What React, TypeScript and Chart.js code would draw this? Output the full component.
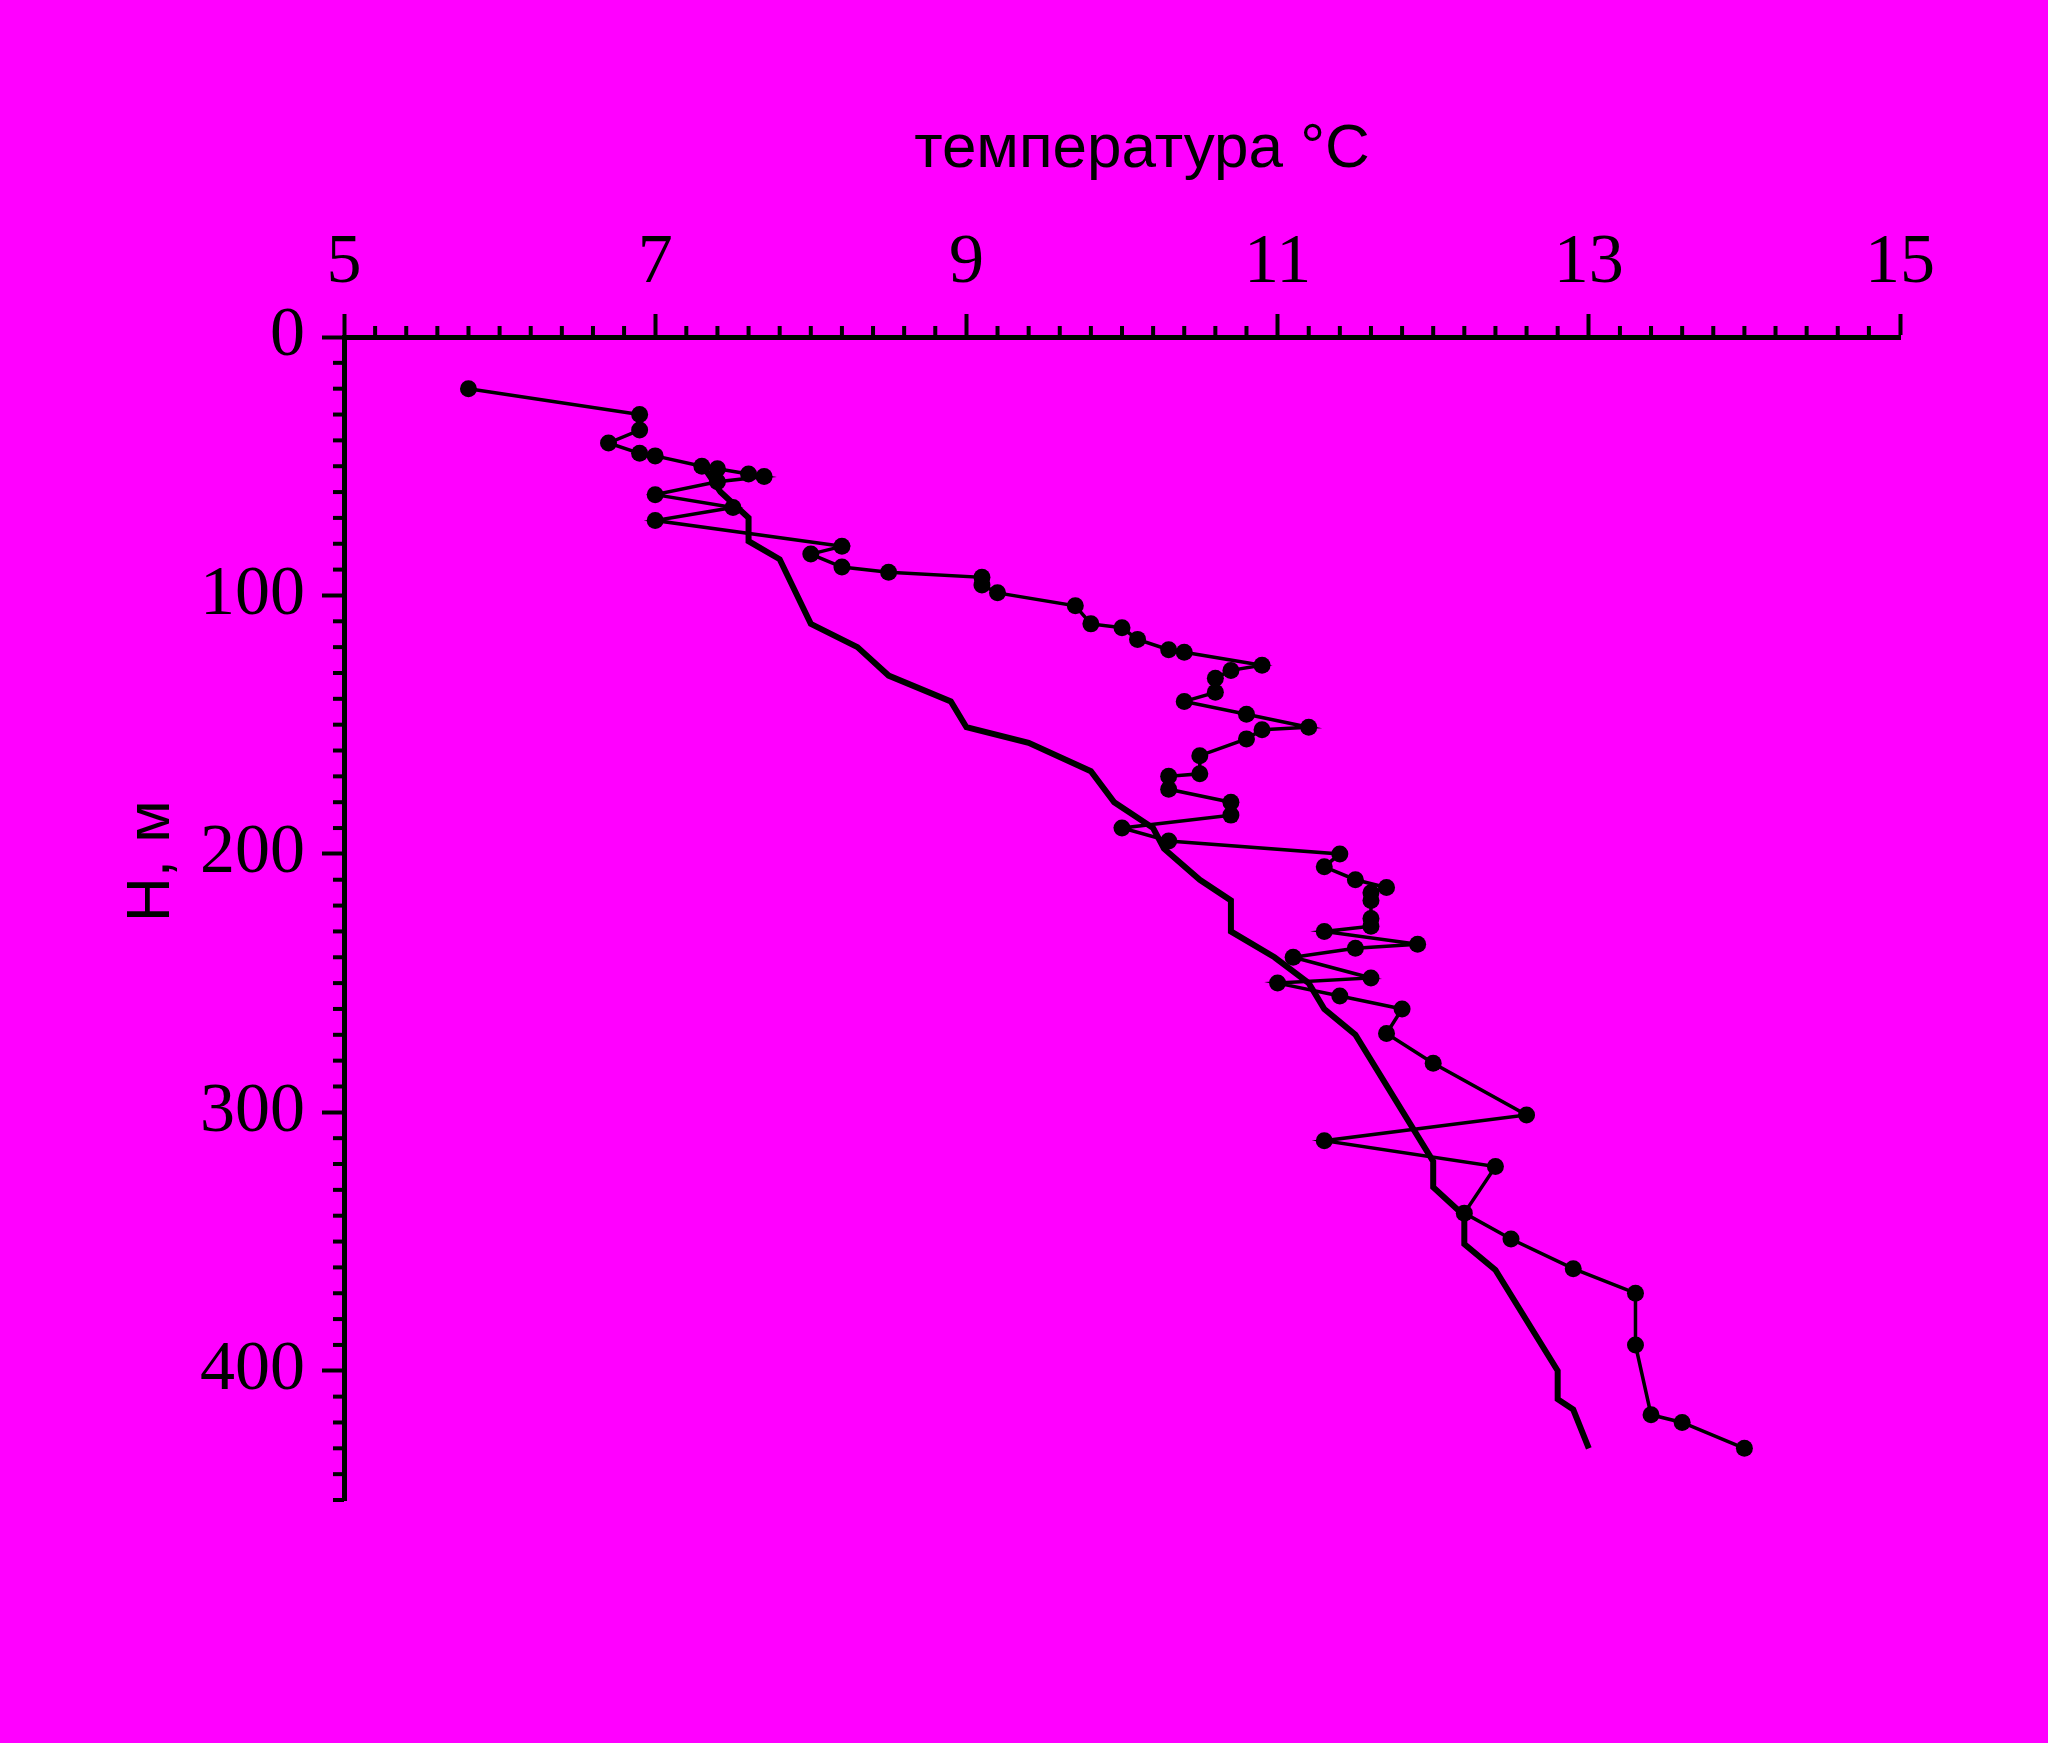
import { useEffect, useRef } from "react";
import { Chart, registerables } from "chart.js";

Chart.register(...registerables);

// Measured profile (dots)
const MEASURED_TEMP = [
  5.8, 6.9, 6.9, 6.7, 6.9, 7.0, 7.3, 7.4, 7.6, 7.7, 7.4, 7.0, 7.5, 7.0, 8.2, 8.0, 8.2, 8.5,
  9.1, 9.1, 9.2, 9.7, 9.8, 10.0, 10.1, 10.3, 10.4, 10.9, 10.7, 10.6, 10.6, 10.4, 10.8, 11.2,
  10.9, 10.8, 10.5, 10.5, 10.3, 10.3, 10.7, 10.7, 10.0, 10.3, 11.4, 11.3, 11.5, 11.7, 11.6,
  11.6, 11.6, 11.6, 11.3, 11.9, 11.5, 11.1, 11.6, 11.0, 11.4, 11.8, 11.7, 12.0, 12.6, 11.3,
  12.4, 12.2, 12.5, 12.9, 13.3, 13.3, 13.4, 13.6, 14.0,
];
const MEASURED_DEPTH = [
  20, 30, 36, 41, 45, 46, 50, 51, 53, 54, 56, 61, 66, 71, 81, 84, 89, 91,
  93, 96, 99, 104, 111, 112.5, 117, 121, 122, 127, 129, 132, 137.5, 141, 146, 151,
  152, 155.5, 162, 169, 170, 175, 180, 185, 190, 195, 200, 205, 210, 213, 215,
  218, 225, 228, 230, 235, 236.5, 240, 248, 250, 255, 260, 269.5, 281, 301, 311,
  321, 339, 349, 360.5, 370, 390, 417, 420, 430,
];

// Smooth profile (thick line)
const MODEL_TEMP = [
  7.33, 7.42, 7.6, 7.6, 7.8, 8.0, 8.3, 8.5, 8.9, 9.0, 9.4, 9.8, 9.95, 10.2, 10.27, 10.5,
  10.7, 10.7, 10.98, 11.2, 11.3, 11.5, 12.0, 12.0, 12.2, 12.2, 12.4, 12.8, 12.8, 12.9, 13.0,
];
const MODEL_DEPTH = [
  52, 60, 70, 79, 86, 111, 120, 131, 141, 151, 157, 168, 180, 190, 198, 210,
  218, 230, 240, 250, 260, 270, 319, 329, 340, 351, 361, 400, 411, 415, 430,
];

const X_TICKS = [5, 7, 9, 11, 13, 15];
const Y_TICKS = [0, 100, 200, 300, 400];
const X_MIN = 5;
const X_MAX = 15;
const Y_MIN = 0;
const Y_MAX = 450;
const X_MINOR_STEP = 0.2;
const Y_MINOR_STEP = 10;

const X_TITLE = "температура °C";
const Y_TITLE = "H, м";

const BG = "#ff00ff";
const INK = "#000000";
const W = 2048;
const H = 1743;

const decorPlugin = {
  id: "decor",
  beforeDraw(chart: any) {
    const ctx = chart.ctx;
    ctx.save();
    ctx.fillStyle = BG;
    ctx.fillRect(0, 0, chart.width, chart.height);
    ctx.restore();
  },
  afterDraw(chart: any) {
    const { ctx, chartArea } = chart;
    const xs = chart.scales.x;
    const ys = chart.scales.y;
    ctx.save();
    ctx.strokeStyle = INK;
    ctx.lineWidth = 4;
    ctx.lineCap = "butt";
    const nx = Math.round((X_MAX - X_MIN) / X_MINOR_STEP);
    for (let i = 0; i <= nx; i++) {
      const v = X_MIN + i * X_MINOR_STEP;
      if (X_TICKS.some((t) => Math.abs(t - v) < 1e-6)) continue;
      const px = xs.getPixelForValue(v);
      ctx.beginPath();
      ctx.moveTo(px, chartArea.top);
      ctx.lineTo(px, chartArea.top - 11);
      ctx.stroke();
    }
    const ny = Math.round((Y_MAX - Y_MIN) / Y_MINOR_STEP);
    for (let i = 0; i <= ny; i++) {
      const v = Y_MIN + i * Y_MINOR_STEP;
      if (Y_TICKS.some((t) => Math.abs(t - v) < 1e-6)) continue;
      const py = ys.getPixelForValue(v);
      ctx.beginPath();
      ctx.moveTo(chartArea.left, py);
      ctx.lineTo(chartArea.left - 11, py);
      ctx.stroke();
    }
    // axis titles
    ctx.fillStyle = INK;
    ctx.font = "62px 'Liberation Sans', Arial, sans-serif";
    ctx.textAlign = "center";
    ctx.textBaseline = "alphabetic";
    ctx.fillText(X_TITLE, (chartArea.left + chartArea.right) / 2 + 20, chartArea.top - 170);
    ctx.translate(chartArea.left - 175, chartArea.top + 524);
    ctx.rotate(-Math.PI / 2);
    ctx.fillText(Y_TITLE, 0, 0);
    ctx.restore();
  },
};

export default function App() {
  const ref = useRef<HTMLCanvasElement | null>(null);

  useEffect(() => {
    if (!ref.current) return;
    const measured = MEASURED_TEMP.map((t, i) => ({ x: t, y: MEASURED_DEPTH[i] }));
    const model = MODEL_TEMP.map((t, i) => ({ x: t, y: MODEL_DEPTH[i] }));
    const tickFont = { family: "'Liberation Serif', 'Times New Roman', serif", size: 70 };
    const chart = new Chart(ref.current, {
      type: "line",
      data: {
        datasets: [
          {
            label: "measured",
            data: measured,
            borderColor: INK,
            backgroundColor: INK,
            borderWidth: 3.5,
            pointRadius: 8.5,
            pointBorderWidth: 0,
            pointBackgroundColor: INK,
            tension: 0,
            fill: false,
          },
          {
            label: "model",
            data: model,
            borderColor: INK,
            backgroundColor: INK,
            borderWidth: 6,
            pointRadius: 0,
            tension: 0,
            fill: false,
          },
        ],
      },
      options: {
        responsive: false,
        animation: false,
        events: [],
        layout: { padding: { left: 0, top: 0, right: W - 1900, bottom: H - 1500 } },
        plugins: {
          legend: { display: false },
          tooltip: { enabled: false },
          title: { display: false },
        },
        scales: {
          x: {
            type: "linear",
            position: "top",
            min: X_MIN,
            max: X_MAX,
            afterFit: (s: any) => {
              s.height = 337;
            },
            afterBuildTicks: (s: any) => {
              s.ticks = X_TICKS.map((v) => ({ value: v }));
            },
            ticks: {
              color: INK,
              font: tickFont,
              padding: 8,
              maxRotation: 0,
              autoSkip: false,
              callback: (v: any) => String(v),
            },
            grid: {
              drawOnChartArea: false,
              drawTicks: true,
              tickLength: 23,
              tickWidth: 4,
              tickColor: INK,
            },
            border: { display: true, color: INK, width: 5 },
            title: { display: false },
          },
          y: {
            type: "linear",
            position: "left",
            reverse: true,
            min: Y_MIN,
            max: Y_MAX,
            afterFit: (s: any) => {
              s.width = 344;
            },
            afterBuildTicks: (s: any) => {
              s.ticks = Y_TICKS.map((v) => ({ value: v }));
            },
            ticks: {
              color: INK,
              font: tickFont,
              padding: 17,
              autoSkip: false,
              callback: (v: any) => String(v),
            },
            grid: {
              drawOnChartArea: false,
              drawTicks: true,
              tickLength: 22,
              tickWidth: 4,
              tickColor: INK,
            },
            border: { display: true, color: INK, width: 5 },
            title: { display: false },
          },
        },
      },
      plugins: [decorPlugin],
    } as any);
    return () => chart.destroy();
  }, []);

  return (
    <div style={{ position: "fixed", left: 0, top: 0, width: W, height: H, background: BG }}>
      <canvas ref={ref} width={W} height={H} style={{ display: "block", width: W, height: H }} />
    </div>
  );
}
